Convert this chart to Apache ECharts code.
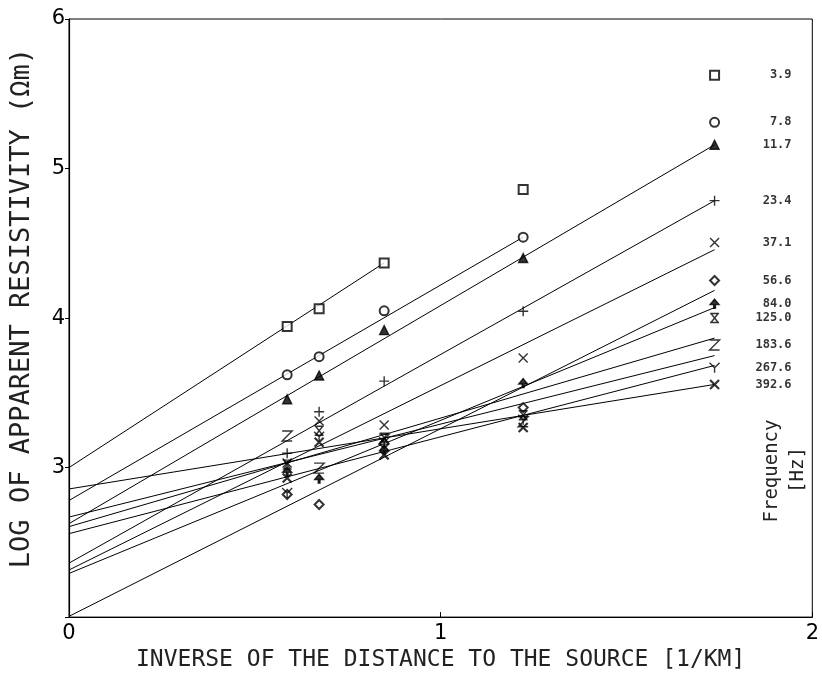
<!DOCTYPE html>
<html>
<head>
<meta charset="utf-8">
<script src="https://cdn.jsdelivr.net/npm/echarts@6/dist/echarts.min.js"></script>
<style>
html,body{margin:0;padding:0;background:#fff;}
#chart{width:822px;height:677px;}
</style>
</head>
<body>
<div id="chart"></div>
<script>
// x positions: inverse of distance to source [1/km]
var xPos = [0.587, 0.673, 0.848, 1.222, 1.737];
// frequency labels [Hz]
var freqLabels = ['3.9', '7.8', '11.7', '23.4', '37.1', '56.6', '84.0', '125.0', '183.6', '267.6', '392.6'];
// log apparent resistivity at each x position, per frequency
var f3_9   = [3.944, 4.063, 4.369, 4.860, 5.624];
var f7_8   = [3.620, 3.742, 4.048, 4.541, 5.309];
var f11_7  = [3.457, 3.616, 3.919, 4.402, 5.159];
var f23_4  = [3.096, 3.373, 3.578, 4.045, 4.785];
var f37_1  = [3.030, 3.311, 3.284, 3.733, 4.506];
var f56_6  = [2.820, 2.753, 3.160, 3.401, 4.251];
var f84_0  = [2.974, 2.926, 3.120, 3.565, 4.096];
var f125_0 = [3.020, 3.246, 3.200, 3.350, 4.000];
var f183_6 = [3.211, 2.996, 3.190, 3.306, 3.820];
var f267_6 = [2.830, 3.206, 3.170, 3.320, 3.667];
var f392_6 = [2.930, 3.170, 3.085, 3.268, 3.556];
// fitted lines: value at x=0, end x, value at end x
var lineStart = [3.000, 2.780, 2.625, 2.361, 2.315, 2.005, 2.292, 2.605, 2.669, 2.558, 2.857];
var lineEndX  = [0.848, 1.222, 1.737, 1.737, 1.737, 1.737, 1.737, 1.737, 1.737, 1.737, 1.737];
var lineEnd   = [4.369, 4.541, 5.159, 4.785, 4.457, 4.185, 4.070, 3.866, 3.749, 3.683, 3.556];
// axis tick labels
var xTicks = [0, 1, 2];
var yTicks = [3, 4, 5, 6];

var allValues = [f3_9, f7_8, f11_7, f23_4, f37_1, f56_6, f84_0, f125_0, f183_6, f267_6, f392_6];

var symbols = [
  {s: 'emptyRect', size: 9, stroke: false},
  {s: 'emptyCircle', size: 9, stroke: false},
  {s: 'triangle', size: 9, stroke: false},
  {s: 'path://M5,0 L5,10 M0,5 L10,5', size: 10, stroke: true},
  {s: 'path://M0,0 L10,10 M10,0 L0,10', size: 9, stroke: true},
  {s: 'emptyDiamond', size: 9, stroke: false},
  {s: 'path://M5,0 L10,6 L6,6 L6,10 L4,10 L4,6 L0,6 Z', size: 9, stroke: false},
  {s: 'path://M0,0 L10,0 M0,10 L10,10 M1,0 L9,10 M9,0 L1,10', size: 9, stroke: true},
  {s: 'path://M1,1 L9,1 L1,9 L9,9', size: 10, stroke: true},
  {s: 'path://M0,0 L5,5 L10,0 M5,5 L5,10', size: 10, stroke: true},
  {s: 'path://M0,0 L10,10 M10,0 L0,10', size: 9, stroke: true, bold: true}
];

var series = [];
for (var i = 0; i < freqLabels.length; i++) {
  series.push({
    type: 'line',
    name: freqLabels[i] + ' fit',
    data: [[0, lineStart[i]], [lineEndX[i], lineEnd[i]]],
    symbol: 'none',
    silent: true,
    lineStyle: {color: '#000', width: 1},
    z: 2
  });
  var sy = symbols[i];
  var pts = [];
  for (var j = 0; j < xPos.length; j++) pts.push([xPos[j], allValues[i][j]]);
  var last = pts.length - 1;
  var data = pts.map(function (p, k) {
    if (k === last) {
      return {value: p, label: {show: true}};
    }
    return {value: p};
  });
  series.push({
    type: 'scatter',
    name: freqLabels[i],
    data: data,
    symbol: sy.s,
    symbolSize: sy.size,
    silent: true,
    itemStyle: sy.stroke ? {color: 'transparent', borderColor: '#000', borderWidth: sy.bold ? 2.2 : 1.4}
                         : {color: '#000', borderColor: '#000', borderWidth: 1.4},
    label: {
      show: false,
      formatter: freqLabels[i],
      position: 'inside',
      align: 'right',
      verticalAlign: 'middle',
      offset: [77, 0],
      color: '#000',
      fontFamily: 'DejaVu Sans Mono',
      fontWeight: 'bold',
      fontSize: 12
    },
    z: 3
  });
}

var chart = echarts.init(document.getElementById('chart'), null, {renderer: 'canvas'});
chart.setOption({
  animation: false,
  backgroundColor: '#fff',
  grid: {left: 66, right: 4, top: 19, bottom: 55, show: true, borderColor: '#000', borderWidth: 1, backgroundColor: 'transparent'},
  xAxis: {
    type: 'value', min: 0, max: 2, interval: 1,
    name: 'INVERSE OF THE DISTANCE TO THE SOURCE [1/KM]',
    nameLocation: 'middle', nameGap: 30,
    nameTextStyle: {fontFamily: 'DejaVu Sans Mono', fontSize: 23, color: '#222'},
    axisLine: {lineStyle: {color: '#000', width: 1.2}},
    axisTick: {inside: true, length: 5, lineStyle: {color: '#000'}},
    splitLine: {show: false},
    axisLabel: {
      color: '#000', fontSize: 21, fontFamily: "'Liberation Sans Narrow','DejaVu Sans'", margin: 6,
      formatter: function (v) { return xTicks.indexOf(v) >= 0 ? String(v) : ''; }
    }
  },
  yAxis: {
    type: 'value', min: 2, max: 6, interval: 1,
    name: 'LOG OF APPARENT RESISTIVITY (Ωm)',
    nameLocation: 'middle', nameGap: 34,
    nameTextStyle: {fontFamily: 'DejaVu Sans Mono', fontSize: 27, color: '#222', padding: [0, 0, 0, 20]},
    axisLine: {lineStyle: {color: '#000', width: 1.2}},
    axisTick: {length: 4, lineStyle: {color: '#000'}},
    splitLine: {show: false},
    axisLabel: {
      color: '#000', fontSize: 21, fontFamily: "'Liberation Sans Narrow','DejaVu Sans'", margin: 4,
      formatter: function (v) { return yTicks.indexOf(v) >= 0 ? String(v) : ''; }
    }
  },
  graphic: [
    {type: 'text', x: 772, y: 471, rotation: Math.PI / 2, style: {text: 'Frequency', fontFamily: 'DejaVu Sans Mono', fontSize: 19, fill: '#222', align: 'center', verticalAlign: 'middle'}},
    {type: 'text', x: 798, y: 470, rotation: Math.PI / 2, style: {text: '[Hz]', fontFamily: 'DejaVu Sans Mono', fontSize: 19, fill: '#222', align: 'center', verticalAlign: 'middle'}}
  ],
  series: series
});
</script>
</body>
</html>
